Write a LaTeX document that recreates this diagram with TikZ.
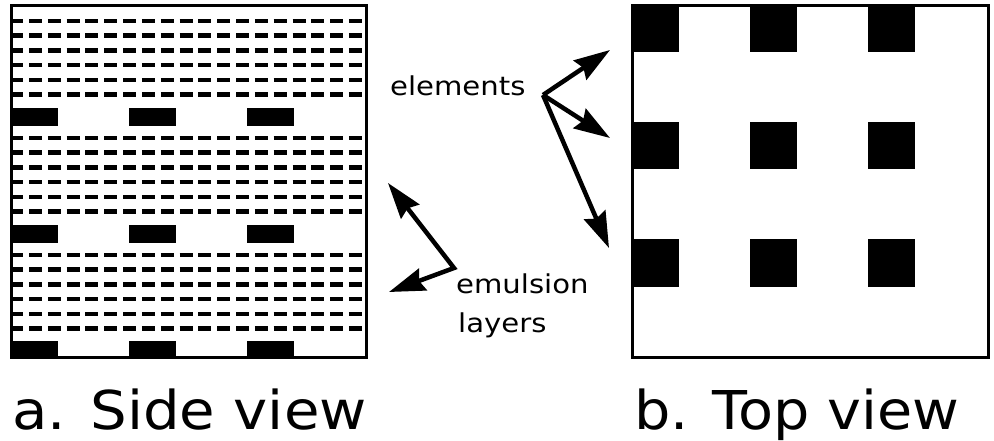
\documentclass[tikz,border=0pt]{standalone}
\usepackage{fontspec}
\setmainfont{DejaVu Sans}
\usetikzlibrary{arrows.meta}

\tikzset{
  frame/.style={draw=black, line width=3.2pt, fill=white},
  cell/.style={fill=black},
  layer/.style={draw=black, line width=4.5pt, dash pattern=on 13pt off 5.82pt},
  head/.tip={Stealth[length=36pt, width=23pt, inset=4pt]},
  pointer/.style={draw=black, line width=4.5pt, -head},
  tag/.style={anchor=base west, inner sep=0pt,
    font=\fontsize{26}{30}\selectfont},
  caption/.style={anchor=base west, inner sep=0pt,
    font=\fontsize{53.5}{60}\selectfont}
}

\begin{document}
\begin{tikzpicture}[x=1pt, y=-1pt]
\useasboundingbox (0,0) rectangle (994,441);

% ---- side view: emulsion layers with rows of elements ----
\draw[frame] (11.5,5.5) rectangle (366.5,357.5);
\foreach \b in {0,117,234}{
  \foreach \k in {0,...,5}{
    \draw[layer] (10.2,{21+\b+14.7*\k}) -- (362.2,{21+\b+14.7*\k});
  }
}
\foreach \r in {108,225,341}{
  \foreach \c in {11,128.5,247}{
    \fill[cell] (\c,\r) rectangle ++(47,18);
  }
}
\draw[line width=3.2pt] (11.5,5.5) rectangle (366.5,357.5);

% ---- top view: grid of elements ----
\draw[frame] (632.5,5.5) rectangle (988.5,357.5);
\foreach \r in {5,122,239}{
  \foreach \c in {632,749.5,868}{
    \fill[cell] (\c,\r) rectangle ++(47,47.5);
  }
}
\draw[line width=3.2pt] (632.5,5.5) rectangle (988.5,357.5);

% ---- labels ----
\node[tag] (elements) at (390,96) {\scalebox{1.12}[1]{elements}};
\node[tag] (emulsion) at (456,293) {\scalebox{1.12}[1]{emulsion}};
\node[tag] (layers) at (458,332) {\scalebox{1.12}[1]{layers}};
\node[caption] (sidecap) at (12,429) {\scalebox{1.08}[1]{a. Side view}};
\node[caption] (topcap) at (634,429) {\scalebox{1.07}[1]{b. Top view}};

% ---- pointers ----
\coordinate (ehub) at (543,95);
\coordinate (e1) at (610,50);
\coordinate (e2) at (610,138);
\coordinate (e3) at (609,248);
\draw[pointer] (ehub) -- (e1);
\draw[pointer] (ehub) -- (e2);
\draw[pointer] (ehub) -- (e3);

\coordinate (lhub) at (454,268);
\coordinate (l1) at (388,183);
\coordinate (l2) at (389,292);
\draw[pointer, head-head, line join=miter] (l1) -- (lhub) -- (l2);
\end{tikzpicture}
\end{document}
